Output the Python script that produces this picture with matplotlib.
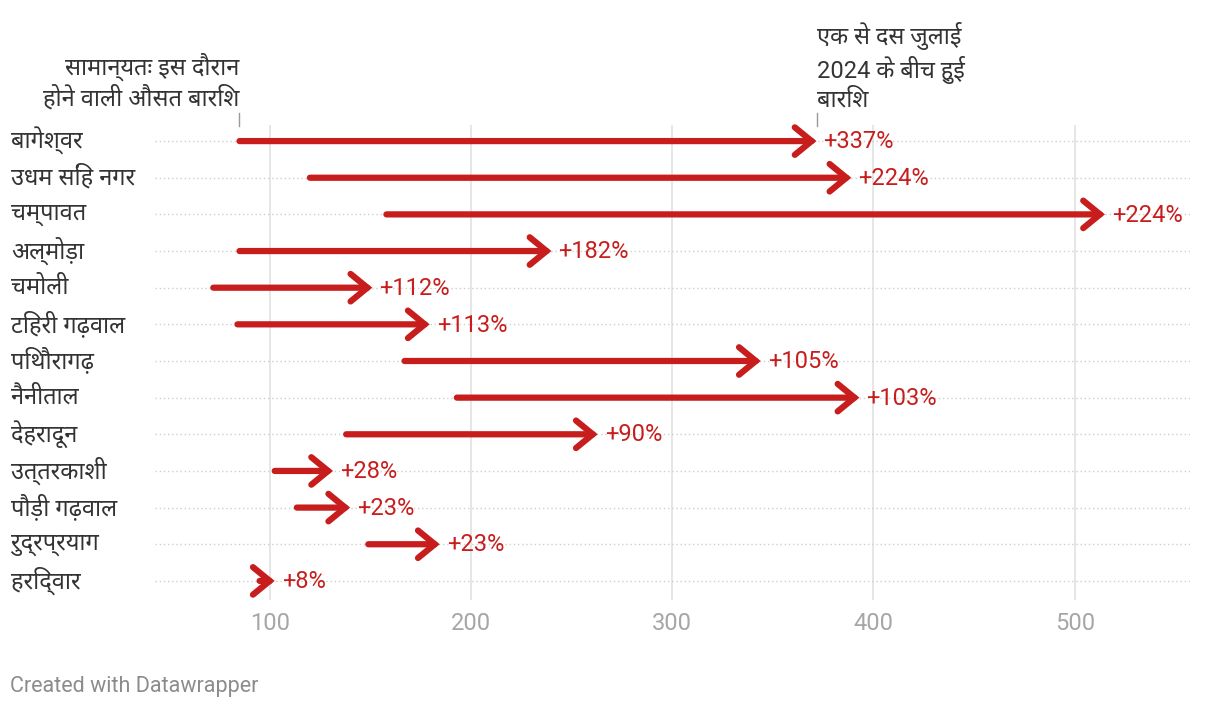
import matplotlib
matplotlib.use('Agg')
import matplotlib.pyplot as plt
import matplotlib.transforms as mtransforms

plt.rcParams['font.family'] = ['Roboto', 'Noto Sans', 'DejaVu Sans']

districts = ['बागेश्वर', 'उधम सिंह नगर', 'चम्पावत', 'अल्मोड़ा', 'चमोली', 'टिहरी गढ़वाल',
             'पिथौरागढ़', 'नैनीताल', 'देहरादून', 'उत्तरकाशी', 'पौड़ी गढ़वाल', 'रुद्रप्रयाग',
             'हरिद्वार']
normal = [85, 120, 158, 85, 72, 84, 167, 193, 138, 102.5, 113.5, 149, 95]
actual = [371.7, 389, 515, 240, 151, 179.5, 344, 393, 263, 131.5, 140, 184.5, 102.5]
labels = ['+337%', '+224%', '+224%', '+182%', '+112%', '+113%', '+105%', '+103%',
          '+90%', '+28%', '+23%', '+23%', '+8%']
ticks = [100, 200, 300, 400, 500]

note_left = 'सामान्यतः इस दौरान\nहोने वाली औसत बारिश'
note_right = 'एक से दस जुलाई\n2024 के बीच हुई\nबारिश'

red = '#c71e1d'
dark = '#333333'

fig = plt.figure(figsize=(12.2, 7.1), dpi=100)
ax = fig.add_axes([0.127, 0.155, 0.848, 0.669])

ax.set_xlim(43, 557)
ax.set_ylim(12.52, -0.44)

for t in ticks:
    ax.axvline(t, color='#e2e2e2', lw=1.2, zorder=0)

for i, name in enumerate(districts):
    ax.axhline(i, color='#cfcfcf', lw=1, ls=(0, (1, 2)), zorder=0)
    ax.annotate('', xy=(actual[i], i), xytext=(normal[i], i),
                arrowprops=dict(arrowstyle='->, head_length=0.55, head_width=0.45',
                                color=red, lw=4.5, capstyle='round',
                                joinstyle='miter', shrinkA=0, shrinkB=0,
                                mutation_scale=22),
                zorder=3)
    ax.annotate(labels[i], xy=(actual[i], i), xytext=(5, -0.5),
                textcoords='offset points', va='center', ha='left',
                color=red, fontsize=17)
    ax.text(-0.139, i, name, transform=ax.get_yaxis_transform(),
            ha='left', va='center', fontsize=17, color=dark,
            family=['Noto Sans', 'DejaVu Sans'])

ax.set_xticks(ticks)
ax.set_xticklabels([str(t) for t in ticks])
ax.tick_params(axis='x', length=0, pad=9, labelsize=17, labelcolor='#a6a6a6')
ax.set_yticks([])
for s in ax.spines.values():
    s.set_visible(False)

# notes above the first row
trans = mtransforms.blended_transform_factory(ax.transData, fig.transFigure)
ax.plot([normal[0], normal[0]], [0.823, 0.841], transform=trans, color='#999999',
        lw=1, clip_on=False)
ax.plot([actual[0], actual[0]], [0.823, 0.841], transform=trans, color='#999999',
        lw=1, clip_on=False)
ax.text(normal[0], 0.843, note_left, transform=trans, ha='right', va='bottom',
        fontsize=17, color=dark, linespacing=1.25,
        family=['Noto Sans', 'DejaVu Sans'])
ax.text(actual[0], 0.843, note_right, transform=trans, ha='left', va='bottom',
        fontsize=17, color=dark, linespacing=1.25,
        family=['Roboto', 'Noto Sans', 'DejaVu Sans'])

fig.text(0.008, 0.025, 'Created with Datawrapper', fontsize=15.5, color='#8c8c8c')

fig.savefig('out.png', dpi=100)
